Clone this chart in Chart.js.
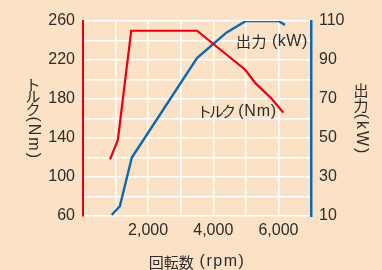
<!DOCTYPE html>
<html>
<head>
  <meta charset="utf-8">
  <title>トルク・出力</title>
  <script src="https://cdn.jsdelivr.net/npm/chart.js"></script>
  <style>
    body { margin: 0; background: #fbe2c6; }
    .chart-box { width: 382px; height: 270px; }
  </style>
</head>
<body>
  <div class="chart-box"><canvas id="engine-chart"></canvas></div>
  <script>
    // tick labels shown on each axis
    const rpmTicks = [2000, 4000, 6000];
    const torqueTicks = [60, 100, 140, 180, 220, 260];
    const powerTicks = [10, 30, 50, 70, 90, 110];

    // torque curve (rpm / Nm)
    const torqueRpm = [830, 1070, 1480, 3500, 4980, 5300, 5800, 6150];
    const torqueNm = [118, 138, 250, 250, 210, 196, 180, 166];

    // power curve (rpm / kW)
    const powerRpm = [880, 1130, 1500, 3500, 4400, 5000, 6000, 6200];
    const powerKw = [10.5, 15, 40, 91, 104, 110, 110, 108];

    const RED = "#e60012";
    const BLUE = "#0b69b4";
    const TEXT = "#2e2b2a";
    const JP = "15px 'Noto Sans CJK JP'";
    const LAT = "16px 'Liberation Sans', Arial, sans-serif";

    function drawRun(c, x, y, parts) {
      for (const [text, font, gap] of parts) {
        c.font = font;
        c.letterSpacing = gap + "px";
        c.fillText(text, x, y);
        x += c.measureText(text).width;
      }
      c.letterSpacing = "0px";
      return x;
    }

    function runWidth(c, parts) {
      let w = 0;
      for (const [text, font, gap] of parts) {
        c.font = font;
        c.letterSpacing = gap + "px";
        w += c.measureText(text).width;
      }
      c.letterSpacing = "0px";
      return w;
    }

    // upright Japanese characters followed by sideways latin text
    function drawVertical(c, cx, midY, chars, pitch, side) {
      const total = chars.length * pitch + runWidth(c, side);
      let y = midY - total / 2;
      c.textAlign = "center";
      c.textBaseline = "middle";
      c.font = JP;
      for (const ch of chars) {
        c.fillText(ch, cx, y + pitch / 2);
        y += pitch;
      }
      c.save();
      c.translate(cx, y + 1);
      c.rotate(Math.PI / 2);
      c.textAlign = "left";
      drawRun(c, 0, 0, side);
      c.restore();
    }

    const titles = {
      id: "titles",
      afterDraw(chart) {
        const c = chart.ctx;
        const area = chart.chartArea;
        const x = chart.scales.x;
        const yT = chart.scales.yTorque;
        const yP = chart.scales.yPower;
        c.save();
        c.fillStyle = TEXT;
        c.textBaseline = "middle";

        // x axis title, centered under the plot
        const xParts = [["回転数", JP, 0], [" (rpm)", LAT, 1.5]];
        const xw = runWidth(c, xParts);
        c.textAlign = "left";
        drawRun(c, (area.left + area.right) / 2 - xw / 2, 262, xParts);

        // vertical axis titles
        const midY = (area.top + area.bottom) / 2;
        drawVertical(c, 33, midY, ["ト", "ル", "ク"], 12.5, [["(Nm)", LAT, 2]]);
        drawVertical(c, 361, midY, ["出", "力"], 15, [["(kW)", LAT, 2]]);

        // series labels inside the plot
        c.textAlign = "left";
        drawRun(c, x.getPixelForValue(4700), yP.getPixelForValue(99.5),
          [["出力", JP, 0.5], [" (kW)", LAT, 0.5]]);
        drawRun(c, x.getPixelForValue(3500), yT.getPixelForValue(167.5),
          [["トルク", JP, -3], [" (Nm)", LAT, 0.8]]);
        c.restore();
      }
    };

    const tickFont = { family: "'Liberation Sans', Arial, sans-serif", size: 16 };

    const ctx = document.getElementById("engine-chart").getContext("2d");
    new Chart(ctx, {
      type: "line",
      data: {
        datasets: [{
          label: "トルク",
          data: torqueRpm.map((r, i) => ({ x: r, y: torqueNm[i] })),
          borderColor: RED,
          borderWidth: 2.2,
          yAxisID: "yTorque"
        }, {
          label: "出力",
          data: powerRpm.map((r, i) => ({ x: r, y: powerKw[i] })),
          borderColor: BLUE,
          borderWidth: 2.4,
          yAxisID: "yPower"
        }]
      },
      options: {
        responsive: true,
        maintainAspectRatio: false,
        animation: false,
        layout: { padding: { top: 21, left: 0, right: 0, bottom: 0 } },
        elements: { line: { tension: 0 }, point: { radius: 0 } },
        plugins: { legend: { display: false }, tooltip: { enabled: false } },
        scales: {
          x: {
            type: "linear",
            min: 0,
            max: 7000,
            afterFit: s => { s.height = 54; },
            grid: { color: "#ffffff", lineWidth: 1.5, drawTicks: false },
            border: { display: false },
            ticks: {
              stepSize: 1000,
              autoSkip: false,
              maxRotation: 0,
              padding: 5,
              color: TEXT,
              font: tickFont,
              callback: v => rpmTicks.includes(v) ? v.toLocaleString("en-US") : ""
            }
          },
          yTorque: {
            position: "left",
            min: 60,
            max: 260,
            afterFit: s => { s.width = 83; },
            grid: { color: "#ffffff", lineWidth: 1.5, drawTicks: false },
            border: { color: RED, width: 2 },
            ticks: {
              stepSize: 20,
              autoSkip: false,
              padding: 8,
              color: TEXT,
              font: tickFont,
              callback: v => torqueTicks.includes(v) ? v : ""
            }
          },
          yPower: {
            position: "right",
            min: 10,
            max: 110,
            afterFit: s => { s.width = 71; },
            grid: { drawOnChartArea: false, drawTicks: false },
            border: { color: BLUE, width: 2.5 },
            ticks: {
              stepSize: 10,
              autoSkip: false,
              padding: 8,
              color: TEXT,
              font: tickFont,
              callback: v => powerTicks.includes(v) ? v : ""
            }
          }
        }
      },
      plugins: [titles]
    });
  </script>
</body>
</html>
